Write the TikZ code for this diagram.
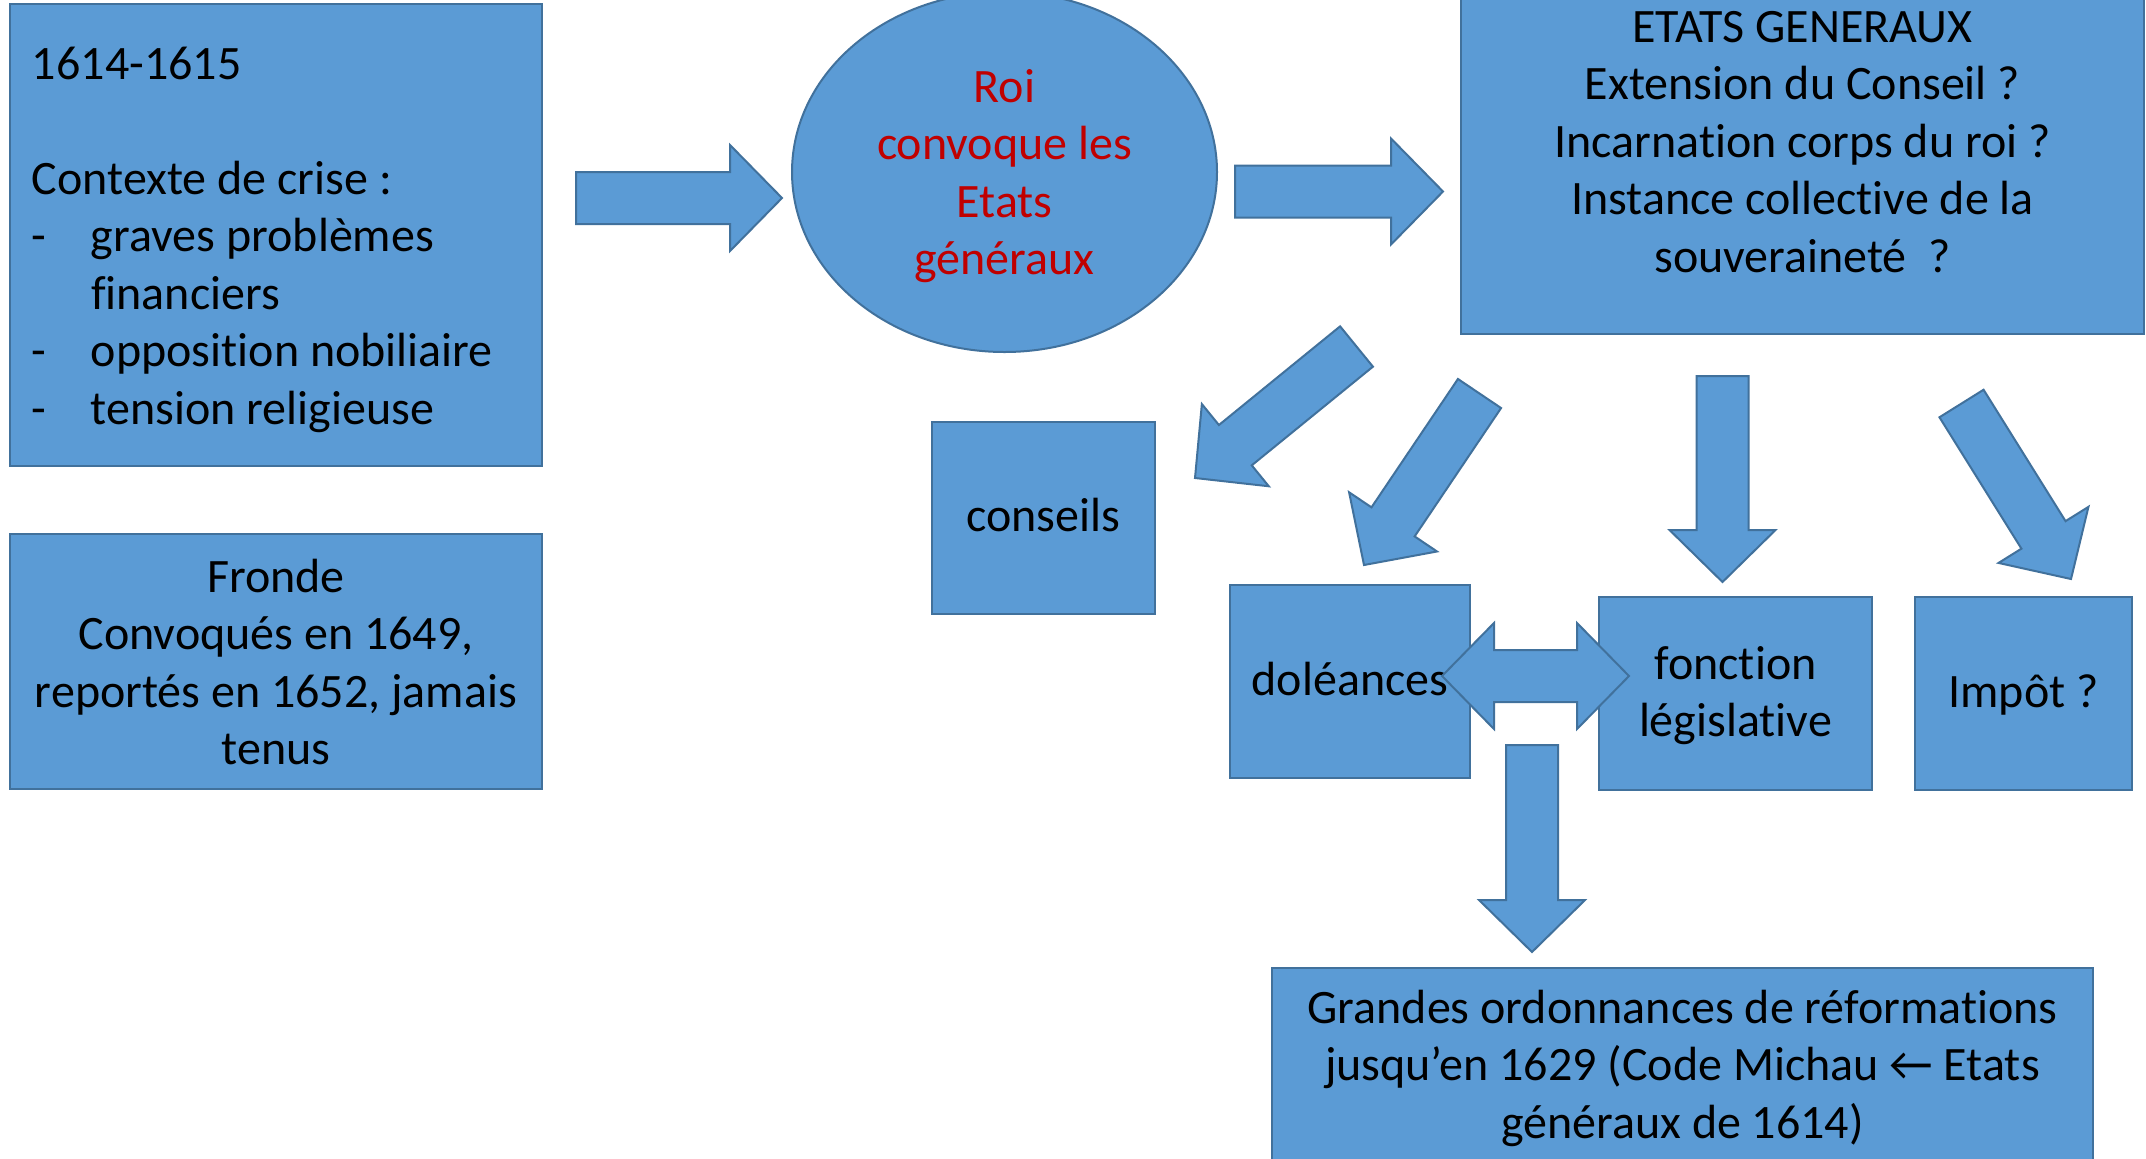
\documentclass[tikz,border=0pt]{standalone}
\usepackage{fontspec}
\setmainfont[Ligatures={NoCommon}]{Carlito}
\newfontfamily\symfnt{Liberation Sans}
\usetikzlibrary{calc,shapes.geometric}
\definecolor{boxfill}{HTML}{5B9BD5}
\definecolor{boxline}{HTML}{41719C}
\definecolor{redtxt}{HTML}{C00000}
\tikzset{
  box/.style={draw=boxline, fill=boxfill, line width=1pt, rectangle, inner sep=0pt, outer sep=0pt},
  oval/.style={draw=boxline, fill=boxfill, line width=1pt, ellipse, inner sep=0pt, outer sep=0pt},
  txt/.style={inner sep=0pt, outer sep=0pt, font=\fontsize{24pt}{28.75pt}\selectfont, align=center, anchor=north},
  blk/.style={draw=boxline, fill=boxfill, line width=1pt, line join=miter},
}
% block arrow: tail coordinate, tip coordinate
\newcommand\blockarrow[2]{%
  \path ($(#2)!26pt!(#1)$) coordinate (hb);
  \draw[blk] ($(#1)!13pt!90:(#2)$) -- ($(hb)!13pt!90:(#2)$) -- ($(hb)!26.5pt!90:(#2)$) -- (#2)
    -- ($(hb)!26.5pt!-90:(#2)$) -- ($(hb)!13pt!-90:(#2)$) -- ($(#1)!13pt!-90:(#2)$) -- cycle;
}
\newcommand\dblarrow[2]{%
  \path ($(#1)!26pt!(#2)$) coordinate (ha) ($(#2)!26pt!(#1)$) coordinate (hz);
  \draw[blk] (#1) -- ($(ha)!26.5pt!90:(#2)$) -- ($(ha)!13pt!90:(#2)$) -- ($(hz)!13pt!-90:(#1)$)
    -- ($(hz)!26.5pt!-90:(#1)$) -- (#2) -- ($(hz)!26.5pt!90:(#1)$) -- ($(hz)!13pt!90:(#1)$)
    -- ($(ha)!13pt!-90:(#2)$) -- ($(ha)!26.5pt!-90:(#2)$) -- cycle;
}
\begin{document}
\begin{tikzpicture}[x=0.5pt,y=-0.5pt]
\clip (0,0) rectangle (2146,1158);
\fill[white] (0,0) rectangle (2146,1158);

% boxes
\node[box, minimum width=266pt, minimum height=231pt] (crise) at (276,235) {};
\node[box, minimum width=266pt, minimum height=127.5pt] (fronde) at (276,661.5) {};
\node[oval, minimum width=212.5pt, minimum height=180pt] (roi) at (1004.5,172) {};
\node[box, minimum width=341.5pt, minimum height=168.5pt] (etats) at (1802.5,165.5) {};
\node[box, minimum width=111.5pt, minimum height=96pt] (conseils) at (1043.5,518) {};
\node[box, minimum width=120pt, minimum height=96.5pt] (dol) at (1350,681.5) {};
\node[box, minimum width=136.5pt, minimum height=96.5pt] (fonc) at (1735.5,693.5) {};
\node[box, minimum width=108.5pt, minimum height=96.5pt] (impot) at (2023.5,693.5) {};
\node[box, minimum width=410.5pt, minimum height=103.5pt] (ordo) at (1682.5,1071.5) {};

% arrow end points
\coordinate (a1s) at (576,198);      \coordinate (a1e) at (782,198);
\coordinate (a2s) at (1235,191.5);   \coordinate (a2e) at (1443,191.5);
\coordinate (aAs) at (1356.5,346.5); \coordinate (aAe) at (1195,478);
\coordinate (aBs) at (1479.5,393.5); \coordinate (aBe) at (1364,565);
\coordinate (aCs) at (1722.5,376);   \coordinate (aCe) at (1722.5,582);
\coordinate (aDs) at (1961.5,403.5); \coordinate (aDe) at (2071,579);
\coordinate (aEs) at (1532,745);     \coordinate (aEe) at (1532,952);
\coordinate (dL) at (1442,676);      \coordinate (dR) at (1629,676);

\blockarrow{a1s}{a1e}
\blockarrow{a2s}{a2e}
\blockarrow{aAs}{aAe}
\blockarrow{aBs}{aBe}
\blockarrow{aCs}{aCe}
\blockarrow{aDs}{aDe}
\blockarrow{aEs}{aEe}

% texts
\node[txt, anchor=north west, align=left] (crise-t) at (32,38.75) {%
\strut 1614-1615\\
\strut\\
\strut Contexte de crise :\\
\strut\makebox[29.5pt][l]{-}graves problèmes\\
\strut\hspace*{29.5pt}financiers\\
\strut\makebox[29.5pt][l]{-}opposition nobiliaire\\
\strut\makebox[29.5pt][l]{-}tension religieuse};
\node[txt] (fronde-t) at (276,551.75) {\strut Fronde\\ \strut Convoqués en 1649,\\ \strut reportés en 1652, jamais\\ \strut tenus};
\node[txt, text=redtxt] (roi-t) at (1004.5,61.75) {\strut Roi\\ \strut convoque les\\ \strut Etats\\ \strut généraux};
\node[txt] (etats-t) at (1802.5,1.75) {\strut ETATS GENERAUX\\ \strut Extension du Conseil ?\\ \strut Incarnation corps du roi ?\\ \strut Instance collective de la\\ \strut souveraineté~~?};
\node[txt] (conseils-t) at (1043.5,490.75) {\strut conseils};
\node[txt] (dol-t) at (1350,654.75) {\strut doléances};
\node[txt] (fonc-t) at (1735.5,638.75) {\strut fonction\\ \strut législative};
\node[txt] (impot-t) at (2023.5,666.75) {\strut Impôt ?};

\dblarrow{dL}{dR}

\node[txt] (ordo-t) at (1682.5,982.75) {\strut Grandes ordonnances de réformations\\ \strut jusqu’en 1629 (Code Michau ← Etats\\ \strut généraux de 1614)};
\end{tikzpicture}
\end{document}
